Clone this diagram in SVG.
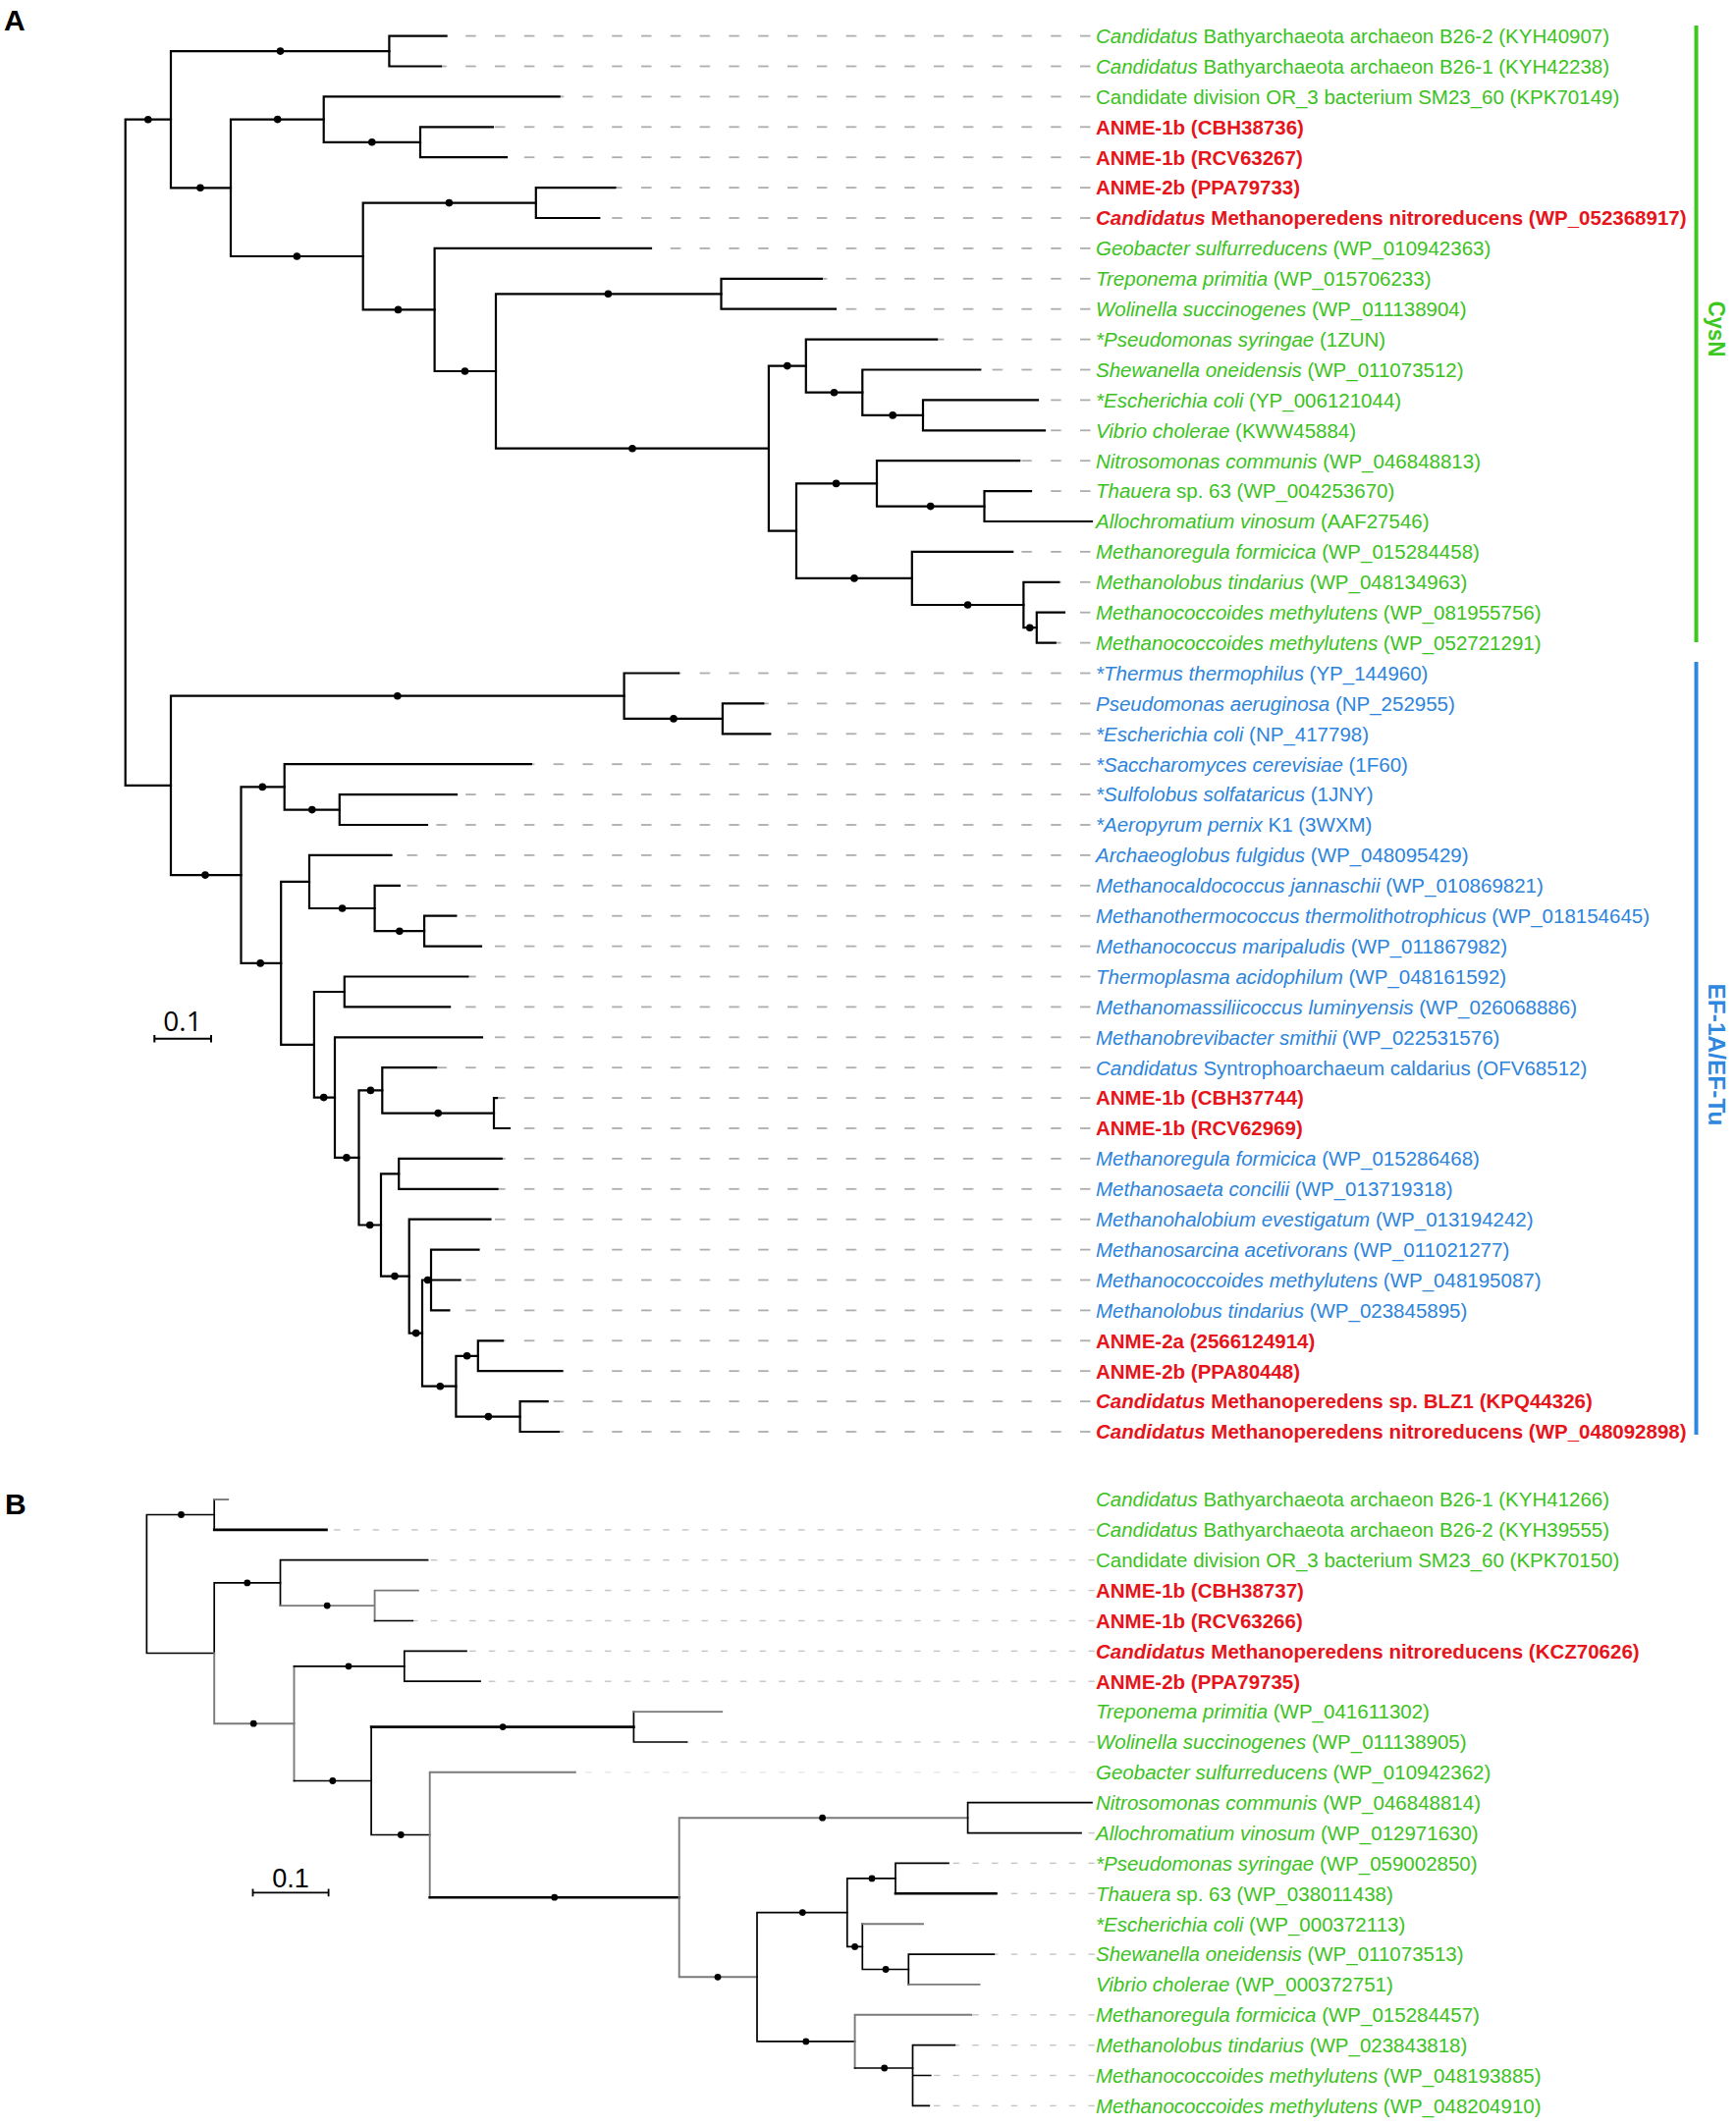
<svg xmlns="http://www.w3.org/2000/svg" width="1768" height="2165" viewBox="0 0 1768 2165">
<style>
.bg{fill:#fff}
.brA{stroke:#000;stroke-width:2.2;fill:none;stroke-linecap:square}
.bk{stroke:#000;stroke-width:1.7;fill:none;stroke-linecap:square}
.gy{stroke:#7a7a7a;stroke-width:1.9;fill:none;stroke-linecap:square}
.thk{stroke:#000;stroke-width:2.6;fill:none;stroke-linecap:square}
.dot{fill:#000}
.lab{font-family:"Liberation Sans",Arial,Helvetica,sans-serif;font-size:20.5px}
.g{fill:#3cc21e}
.bl{fill:#2d84dc}
.r{fill:#e6141b;font-weight:bold}
.i{font-style:italic}
.panel{font-family:"Liberation Sans",Arial,sans-serif;font-size:30px;font-weight:bold;fill:#000}
.cat{font-family:"Liberation Sans",Arial,sans-serif;font-size:23px;font-weight:bold}
</style>
<defs>
<pattern id="dA" patternUnits="userSpaceOnUse" x="474.2" y="0" width="29.8" height="40"><rect x="0" y="0" width="10.5" height="40" fill="#adadad"/></pattern>
<pattern id="dB" patternUnits="userSpaceOnUse" x="1108.5" y="0" width="19.7" height="40"><rect x="0" y="0" width="6.5" height="40" fill="#c4c4c4"/></pattern>
</defs>
<rect class="bg" x="0" y="0" width="1768" height="2165"/>
<text class="panel" x="4" y="31">A</text>
<text class="panel" x="5" y="1542">B</text>

<g id="connectors">
<g id="leadersA" fill="url(#dA)">
<rect x="454.6" y="35.7" width="658.4" height="1.8"/>
<rect x="449" y="66.6" width="664" height="1.8"/>
<rect x="569.6" y="97.5" width="543.4" height="1.8"/>
<rect x="502" y="128.4" width="611" height="1.8"/>
<rect x="516" y="159.3" width="597" height="1.8"/>
<rect x="626.4" y="190.2" width="486.6" height="1.8"/>
<rect x="610.3" y="221.1" width="502.7" height="1.8"/>
<rect x="663" y="252" width="450" height="1.8"/>
<rect x="836.9" y="282.9" width="276.1" height="1.8"/>
<rect x="851" y="313.8" width="262" height="1.8"/>
<rect x="954" y="344.7" width="159" height="1.8"/>
<rect x="998.3" y="375.6" width="114.7" height="1.8"/>
<rect x="1057" y="406.5" width="56" height="1.8"/>
<rect x="1064" y="437.4" width="49" height="1.8"/>
<rect x="1038.2" y="468.3" width="74.8" height="1.8"/>
<rect x="1050" y="499.2" width="63" height="1.8"/>
<rect x="1031.2" y="561" width="81.8" height="1.8"/>
<rect x="1078.2" y="591.9" width="34.8" height="1.8"/>
<rect x="1084" y="622.8" width="29" height="1.8"/>
<rect x="1074.7" y="653.7" width="38.3" height="1.8"/>
<rect x="691" y="684.6" width="422" height="1.8"/>
<rect x="777.3" y="715.5" width="335.7" height="1.8"/>
<rect x="784.3" y="746.4" width="328.7" height="1.8"/>
<rect x="540.9" y="777.3" width="572.1" height="1.8"/>
<rect x="465" y="808.2" width="648" height="1.8"/>
<rect x="435" y="839.1" width="678" height="1.8"/>
<rect x="398.5" y="870" width="714.5" height="1.8"/>
<rect x="406.9" y="900.9" width="706.1" height="1.8"/>
<rect x="464.4" y="931.8" width="648.6" height="1.8"/>
<rect x="490" y="962.7" width="623" height="1.8"/>
<rect x="476.3" y="993.6" width="636.7" height="1.8"/>
<rect x="458.1" y="1024.5" width="654.9" height="1.8"/>
<rect x="491" y="1055.4" width="622" height="1.8"/>
<rect x="444" y="1086.3" width="669" height="1.8"/>
<rect x="506" y="1117.2" width="607" height="1.8"/>
<rect x="519" y="1148.1" width="594" height="1.8"/>
<rect x="510.7" y="1179" width="602.3" height="1.8"/>
<rect x="506.5" y="1209.9" width="606.5" height="1.8"/>
<rect x="499.5" y="1240.8" width="613.5" height="1.8"/>
<rect x="487.5" y="1271.7" width="625.5" height="1.8"/>
<rect x="468.6" y="1302.6" width="644.4" height="1.8"/>
<rect x="457.4" y="1333.5" width="655.6" height="1.8"/>
<rect x="512" y="1364.4" width="601" height="1.8"/>
<rect x="572.4" y="1395.3" width="540.6" height="1.8"/>
<rect x="557.7" y="1426.2" width="555.3" height="1.8"/>
<rect x="569" y="1457.1" width="544" height="1.8"/>
</g>
<g id="leadersB" fill="url(#dB)">
<rect x="332.5" y="1557.2" width="782.5" height="1.4"/>
<rect x="435.6" y="1588" width="679.4" height="1.4"/>
<rect x="425.8" y="1618.9" width="689.2" height="1.4"/>
<rect x="420.2" y="1649.8" width="694.8" height="1.4"/>
<rect x="475" y="1680.7" width="640" height="1.4"/>
<rect x="489" y="1711.5" width="626" height="1.4"/>
<rect x="699.4" y="1773.3" width="415.6" height="1.4"/>
<rect x="585.8" y="1804.1" width="529.2" height="1.4" opacity="0.4"/>
<rect x="1101" y="1865.9" width="14" height="1.4"/>
<rect x="966" y="1896.7" width="149" height="1.4"/>
<rect x="1014.4" y="1927.6" width="100.6" height="1.4"/>
<rect x="1012.3" y="1989.4" width="102.7" height="1.4"/>
<rect x="989.1" y="2051.1" width="125.9" height="1.4"/>
<rect x="972.3" y="2082" width="142.7" height="1.4"/>
<rect x="947.8" y="2112.8" width="167.2" height="1.4"/>
<rect x="946.3" y="2143.7" width="168.7" height="1.4"/>
</g>
<g id="branchesA" class="brA">
<path d="M127.7 121.7V799.9M127.7 121.7H174M127.7 799.9H174"/>
<path d="M174 52.1V191.3M174 52.1H396.4M174 191.3H235"/>
<path d="M396.4 36.6V67.5M396.4 36.6H454.6M396.4 67.5H449"/>
<path d="M235 121.6V261M235 121.6H329.7M235 261H369.7"/>
<path d="M329.7 98.4V144.8M329.7 98.4H569.6M329.7 144.8H428"/>
<path d="M428 129.3V160.2M428 129.3H502M428 160.2H516"/>
<path d="M369.7 206.6V315.4M369.7 206.6H545.8M369.7 315.4H442.6"/>
<path d="M545.8 191.1V222M545.8 191.1H626.4M545.8 222H610.3"/>
<path d="M442.6 252.9V378M442.6 252.9H663M442.6 378H505"/>
<path d="M505 299.3V456.7M505 299.3H734.5M505 456.7H782.9"/>
<path d="M734.5 283.8V314.7M734.5 283.8H836.9M734.5 314.7H851"/>
<path d="M782.9 372.6V540.7M782.9 372.6H820.8M782.9 540.7H811"/>
<path d="M820.8 345.6V399.7M820.8 345.6H954M820.8 399.7H878.3"/>
<path d="M878.3 376.5V422.9M878.3 376.5H998.3M878.3 422.9H940"/>
<path d="M940 407.4V438.3M940 407.4H1057M940 438.3H1064"/>
<path d="M811 492.4V588.9M811 492.4H893M811 588.9H928.8"/>
<path d="M893 469.2V515.6M893 469.2H1038.2M893 515.6H1002.5"/>
<path d="M1002.5 500.1V531M1002.5 500.1H1050M1002.5 531H1112"/>
<path d="M928.8 561.9V616M928.8 561.9H1031.2M928.8 616H1042.4"/>
<path d="M1042.4 592.8V639.2M1042.4 592.8H1078.2M1042.4 639.2H1055.8"/>
<path d="M1055.8 623.7V654.6M1055.8 623.7H1084M1055.8 654.6H1074.7"/>
<path d="M174 708.7V891.1M174 708.7H635.6M174 891.1H245.5"/>
<path d="M635.6 685.5V731.9M635.6 685.5H691M635.6 731.9H735.9"/>
<path d="M735.9 716.4V747.3M735.9 716.4H777.3M735.9 747.3H784.3"/>
<path d="M245.5 801.4V980.9M245.5 801.4H289.7M245.5 980.9H286.2"/>
<path d="M289.7 778.2V824.6M289.7 778.2H540.9M289.7 824.6H345.8"/>
<path d="M345.8 809.1V840M345.8 809.1H465M345.8 840H435"/>
<path d="M286.2 897.9V1063.8M286.2 897.9H315M286.2 1063.8H319.9"/>
<path d="M315 870.9V925M315 870.9H398.5M315 925H381.6"/>
<path d="M381.6 901.8V948.2M381.6 901.8H406.9M381.6 948.2H432.1"/>
<path d="M432.1 932.7V963.6M432.1 932.7H464.4M432.1 963.6H490"/>
<path d="M319.9 1010V1117.6M319.9 1010H350.8M319.9 1117.6H341"/>
<path d="M350.8 994.5V1025.4M350.8 994.5H476.3M350.8 1025.4H458.1"/>
<path d="M341 1056.3V1178.9M341 1056.3H491M341 1178.9H365.5"/>
<path d="M365.5 1110.4V1247.5M365.5 1110.4H389.3M365.5 1247.5H388"/>
<path d="M389.3 1087.2V1133.6M389.3 1087.2H444M389.3 1133.6H503"/>
<path d="M503 1118.1V1149M503 1118.1H506M503 1149H519"/>
<path d="M388 1195.4V1299.6M388 1195.4H406.2M388 1299.6H416.7"/>
<path d="M406.2 1179.9V1210.8M406.2 1179.9H510.7M406.2 1210.8H506.5"/>
<path d="M416.7 1241.7V1357.6M416.7 1241.7H499.5M416.7 1357.6H430"/>
<path d="M430 1303.5V1411.7M430 1303.5H439M430 1411.7H464.4"/>
<path d="M439 1272.6V1334.4M439 1272.6H487.5M439 1303.5H468.6M439 1334.4H457.4"/>
<path d="M464.4 1380.8V1442.6M464.4 1380.8H486.8M464.4 1442.6H529.6"/>
<path d="M486.8 1365.3V1396.2M486.8 1365.3H512M486.8 1396.2H572.4"/>
<path d="M529.6 1427.1V1458M529.6 1427.1H557.7M529.6 1458H569"/>
</g>
<g id="branchesB">
<path class="bk" d="M149.4 1542.5V1683.5M149.4 1542.5H218.2M149.4 1683.5H218.2"/>
<path class="bk" d="M218.2 1527V1557.9"/>
<path class="gy" d="M218.2 1527H232.2"/>
<path class="thk" d="M218.2 1557.9H332.5"/>
<path class="bk" d="M218.2 1611.9V1683.5M218.2 1611.9H285.5"/>
<path class="gy" d="M218.2 1683.5V1755.2M218.2 1755.2H299.5"/>
<path class="bk" d="M285.5 1588.7V1635.1M285.5 1588.7H435.6"/>
<path class="gy" d="M285.5 1635.1H381.6M381.6 1619.6V1650.5M381.6 1619.6H425.8"/>
<path class="bk" d="M381.6 1650.5H420.2"/>
<path class="gy" d="M299.5 1696.8V1813.5"/>
<path class="bk" d="M299.5 1696.8H411.8M299.5 1813.5H378.1"/>
<path class="bk" d="M411.8 1681.4V1712.2M411.8 1681.4H475M411.8 1712.2H489"/>
<path class="bk" d="M378.1 1758.6V1868.5M378.1 1868.5H437.7"/>
<path class="thk" d="M378.1 1758.6H645.4"/>
<path class="bk" d="M645.4 1743.1V1774M645.4 1774H699.4"/>
<path class="gy" d="M645.4 1743.1H735.2"/>
<path class="gy" d="M437.7 1804.8V1932.2M437.7 1804.8H585.8"/>
<path class="thk" d="M437.7 1932.2H691.7"/>
<path class="gy" d="M691.7 1851.2V2013.3M691.7 1851.2H985.6M691.7 2013.3H771"/>
<path class="bk" d="M985.6 1835.7V1866.6M985.6 1835.7H1112M985.6 1866.6H1101"/>
<path class="bk" d="M771 1947.6V2078.9M771 1947.6H862.8M771 2078.9H870.6"/>
<path class="bk" d="M862.8 1912.9V1982.4M862.8 1912.9H912M862.8 1982.4H878.3"/>
<path class="bk" d="M912 1897.4V1928.3M912 1897.4H966"/>
<path class="thk" d="M912 1928.3H1014.4"/>
<path class="bk" d="M878.3 1959.2V2005.5M878.3 2005.5H925.3"/>
<path class="gy" d="M878.3 1959.2H940"/>
<path class="bk" d="M925.3 1990.1V2020.9M925.3 1990.1H1012.3"/>
<path class="gy" d="M925.3 2020.9H997.5"/>
<path class="gy" d="M870.6 2051.8V2106M870.6 2051.8H989.1"/>
<path class="bk" d="M870.6 2106H929.5"/>
<path class="bk" d="M929.5 2082.7V2144.4M929.5 2082.7H972.3M929.5 2113.5H947.8M929.5 2144.4H946.3"/>
</g>
</g>

<g id="internal-nodes-A" class="dot">
<circle cx="150.8" cy="121.7" r="3.8"/><circle cx="285.5" cy="52.1" r="3.8"/><circle cx="204" cy="191.3" r="3.8"/>
<circle cx="282.7" cy="121.6" r="3.8"/><circle cx="378.8" cy="144.8" r="3.8"/><circle cx="302.4" cy="261" r="3.8"/>
<circle cx="457.4" cy="206.6" r="3.8"/><circle cx="405.5" cy="315.4" r="3.8"/><circle cx="473.5" cy="378" r="3.8"/>
<circle cx="619.4" cy="299.3" r="3.8"/><circle cx="644" cy="456.7" r="3.8"/><circle cx="801.8" cy="372.6" r="3.8"/>
<circle cx="849.5" cy="399.7" r="3.8"/><circle cx="909.2" cy="422.9" r="3.8"/><circle cx="851.6" cy="492.4" r="3.8"/>
<circle cx="947.7" cy="515.6" r="3.8"/><circle cx="870" cy="588.9" r="3.8"/><circle cx="985.6" cy="616" r="3.8"/>
<circle cx="1048.8" cy="639.2" r="3.8"/>
<circle cx="404.8" cy="708.7" r="3.8"/><circle cx="686" cy="731.9" r="3.8"/><circle cx="209" cy="891.1" r="3.8"/>
<circle cx="267.3" cy="801.4" r="3.8"/><circle cx="317.8" cy="824.6" r="3.8"/><circle cx="265.2" cy="980.9" r="3.8"/>
<circle cx="348.6" cy="925" r="3.8"/><circle cx="406.9" cy="948.2" r="3.8"/><circle cx="329.7" cy="1117.6" r="3.8"/>
<circle cx="352.9" cy="1178.9" r="3.8"/><circle cx="377.4" cy="1110.4" r="3.8"/><circle cx="446.2" cy="1133.6" r="3.8"/>
<circle cx="376.7" cy="1247.5" r="3.8"/><circle cx="402" cy="1299.6" r="3.8"/><circle cx="423.7" cy="1357.6" r="3.8"/>
<circle cx="435.6" cy="1303.5" r="3.8"/><circle cx="448.3" cy="1411.7" r="3.8"/><circle cx="475.6" cy="1380.8" r="3.8"/>
<circle cx="497.4" cy="1442.6" r="3.8"/>
</g>
<g id="internal-nodes-B" class="dot">
<circle cx="184.5" cy="1542.5" r="3.4"/><circle cx="251.8" cy="1611.9" r="3.4"/><circle cx="333.2" cy="1635.1" r="3.4"/>
<circle cx="258.2" cy="1755.2" r="3.4"/><circle cx="355" cy="1696.8" r="3.4"/><circle cx="338.8" cy="1813.5" r="3.4"/>
<circle cx="512.1" cy="1758.6" r="3.4"/><circle cx="408.3" cy="1868.5" r="3.4"/><circle cx="564.7" cy="1932.2" r="3.4"/>
<circle cx="837.6" cy="1851.2" r="3.4"/><circle cx="731" cy="2013.3" r="3.4"/><circle cx="817.3" cy="1947.6" r="3.4"/>
<circle cx="888" cy="1912.9" r="3.4"/><circle cx="870.6" cy="1982.4" r="3.4"/><circle cx="902.1" cy="2005.5" r="3.4"/>
<circle cx="820.8" cy="2078.9" r="3.4"/><circle cx="900.7" cy="2106" r="3.4"/>
</g>

<g id="scale-A">
<path d="M157.3 1057.7H215M157.3 1054V1061.4M215 1054V1061.4" stroke="#000" stroke-width="2" fill="none"/>
<text x="186" y="1049.5" text-anchor="middle" font-family="'Open Sans','Liberation Sans',sans-serif" font-size="28" fill="#000">0.1</text>
</g>
<g id="scale-B">
<path d="M257.5 1927.4H334.6M257.5 1923.6V1931.2M334.6 1923.6V1931.2" stroke="#000" stroke-width="1.8" fill="none"/>
<text x="296" y="1921.5" text-anchor="middle" font-family="'Liberation Sans',Arial,sans-serif" font-size="27" fill="#000">0.1</text>
</g>

<g id="leavesA" class="lab">
<g id="A01"><text class="g" x="1116" y="43.9"><tspan class="i">Candidatus</tspan> Bathyarchaeota archaeon B26-2 (KYH40907)</text></g>
<g id="A02"><text class="g" x="1116" y="74.8"><tspan class="i">Candidatus</tspan> Bathyarchaeota archaeon B26-1 (KYH42238)</text></g>
<g id="A03"><text class="g" x="1116" y="105.7">Candidate division OR_3 bacterium SM23_60 (KPK70149)</text></g>
<g id="A04"><text class="r" x="1116" y="136.6">ANME-1b (CBH38736)</text></g>
<g id="A05"><text class="r" x="1116" y="167.5">ANME-1b (RCV63267)</text></g>
<g id="A06"><text class="r" x="1116" y="198.4">ANME-2b (PPA79733)</text></g>
<g id="A07"><text class="r" x="1116" y="229.3"><tspan class="i">Candidatus</tspan> Methanoperedens nitroreducens (WP_052368917)</text></g>
<g id="A08"><text class="g" x="1116" y="260.2"><tspan class="i">Geobacter sulfurreducens</tspan> (WP_010942363)</text></g>
<g id="A09"><text class="g" x="1116" y="291.1"><tspan class="i">Treponema primitia</tspan> (WP_015706233)</text></g>
<g id="A10"><text class="g" x="1116" y="322"><tspan class="i">Wolinella succinogenes</tspan> (WP_011138904)</text></g>
<g id="A11"><text class="g" x="1116" y="352.9"><tspan class="i">*Pseudomonas syringae</tspan> (1ZUN)</text></g>
<g id="A12"><text class="g" x="1116" y="383.8"><tspan class="i">Shewanella oneidensis</tspan> (WP_011073512)</text></g>
<g id="A13"><text class="g" x="1116" y="414.7"><tspan class="i">*Escherichia coli</tspan> (YP_006121044)</text></g>
<g id="A14"><text class="g" x="1116" y="445.6"><tspan class="i">Vibrio cholerae</tspan> (KWW45884)</text></g>
<g id="A15"><text class="g" x="1116" y="476.5"><tspan class="i">Nitrosomonas communis</tspan> (WP_046848813)</text></g>
<g id="A16"><text class="g" x="1116" y="507.4"><tspan class="i">Thauera</tspan> sp. 63 (WP_004253670)</text></g>
<g id="A17"><text class="g" x="1116" y="538.3"><tspan class="i">Allochromatium vinosum</tspan> (AAF27546)</text></g>
<g id="A18"><text class="g" x="1116" y="569.2"><tspan class="i">Methanoregula formicica</tspan> (WP_015284458)</text></g>
<g id="A19"><text class="g" x="1116" y="600.1"><tspan class="i">Methanolobus tindarius</tspan> (WP_048134963)</text></g>
<g id="A20"><text class="g" x="1116" y="631"><tspan class="i">Methanococcoides methylutens</tspan> (WP_081955756)</text></g>
<g id="A21"><text class="g" x="1116" y="661.9"><tspan class="i">Methanococcoides methylutens</tspan> (WP_052721291)</text></g>
<g id="A22"><text class="bl" x="1116" y="692.8"><tspan class="i">*Thermus thermophilus</tspan> (YP_144960)</text></g>
<g id="A23"><text class="bl" x="1116" y="723.7"><tspan class="i">Pseudomonas aeruginosa</tspan> (NP_252955)</text></g>
<g id="A24"><text class="bl" x="1116" y="754.6"><tspan class="i">*Escherichia coli</tspan> (NP_417798)</text></g>
<g id="A25"><text class="bl" x="1116" y="785.5"><tspan class="i">*Saccharomyces cerevisiae</tspan> (1F60)</text></g>
<g id="A26"><text class="bl" x="1116" y="816.4"><tspan class="i">*Sulfolobus solfataricus</tspan> (1JNY)</text></g>
<g id="A27"><text class="bl" x="1116" y="847.3"><tspan class="i">*Aeropyrum pernix</tspan> K1 (3WXM)</text></g>
<g id="A28"><text class="bl" x="1116" y="878.2"><tspan class="i">Archaeoglobus fulgidus</tspan> (WP_048095429)</text></g>
<g id="A29"><text class="bl" x="1116" y="909.1"><tspan class="i">Methanocaldococcus jannaschii</tspan> (WP_010869821)</text></g>
<g id="A30"><text class="bl" x="1116" y="940"><tspan class="i">Methanothermococcus thermolithotrophicus</tspan> (WP_018154645)</text></g>
<g id="A31"><text class="bl" x="1116" y="970.9"><tspan class="i">Methanococcus maripaludis</tspan> (WP_011867982)</text></g>
<g id="A32"><text class="bl" x="1116" y="1001.8"><tspan class="i">Thermoplasma acidophilum</tspan> (WP_048161592)</text></g>
<g id="A33"><text class="bl" x="1116" y="1032.7"><tspan class="i">Methanomassiliicoccus luminyensis</tspan> (WP_026068886)</text></g>
<g id="A34"><text class="bl" x="1116" y="1063.6"><tspan class="i">Methanobrevibacter smithii</tspan> (WP_022531576)</text></g>
<g id="A35"><text class="bl" x="1116" y="1094.5"><tspan class="i">Candidatus</tspan> Syntrophoarchaeum caldarius (OFV68512)</text></g>
<g id="A36"><text class="r" x="1116" y="1125.4">ANME-1b (CBH37744)</text></g>
<g id="A37"><text class="r" x="1116" y="1156.3">ANME-1b (RCV62969)</text></g>
<g id="A38"><text class="bl" x="1116" y="1187.2"><tspan class="i">Methanoregula formicica</tspan> (WP_015286468)</text></g>
<g id="A39"><text class="bl" x="1116" y="1218.1"><tspan class="i">Methanosaeta concilii</tspan> (WP_013719318)</text></g>
<g id="A40"><text class="bl" x="1116" y="1249"><tspan class="i">Methanohalobium evestigatum</tspan> (WP_013194242)</text></g>
<g id="A41"><text class="bl" x="1116" y="1279.9"><tspan class="i">Methanosarcina acetivorans</tspan> (WP_011021277)</text></g>
<g id="A42"><text class="bl" x="1116" y="1310.8"><tspan class="i">Methanococcoides methylutens</tspan> (WP_048195087)</text></g>
<g id="A43"><text class="bl" x="1116" y="1341.7"><tspan class="i">Methanolobus tindarius</tspan> (WP_023845895)</text></g>
<g id="A44"><text class="r" x="1116" y="1372.6">ANME-2a (2566124914)</text></g>
<g id="A45"><text class="r" x="1116" y="1403.5">ANME-2b (PPA80448)</text></g>
<g id="A46"><text class="r" x="1116" y="1434.4"><tspan class="i">Candidatus</tspan> Methanoperedens sp. BLZ1 (KPQ44326)</text></g>
<g id="A47"><text class="r" x="1116" y="1465.3"><tspan class="i">Candidatus</tspan> Methanoperedens nitroreducens (WP_048092898)</text></g>
</g>

<g id="leavesB" class="lab">
<g id="B01"><text class="g" x="1116" y="1534.3"><tspan class="i">Candidatus</tspan> Bathyarchaeota archaeon B26-1 (KYH41266)</text></g>
<g id="B02"><text class="g" x="1116" y="1565.2"><tspan class="i">Candidatus</tspan> Bathyarchaeota archaeon B26-2 (KYH39555)</text></g>
<g id="B03"><text class="g" x="1116" y="1596">Candidate division OR_3 bacterium SM23_60 (KPK70150)</text></g>
<g id="B04"><text class="r" x="1116" y="1626.9">ANME-1b (CBH38737)</text></g>
<g id="B05"><text class="r" x="1116" y="1657.8">ANME-1b (RCV63266)</text></g>
<g id="B06"><text class="r" x="1116" y="1688.7"><tspan class="i">Candidatus</tspan> Methanoperedens nitroreducens (KCZ70626)</text></g>
<g id="B07"><text class="r" x="1116" y="1719.5">ANME-2b (PPA79735)</text></g>
<g id="B08"><text class="g" x="1116" y="1750.4"><tspan class="i">Treponema primitia</tspan> (WP_041611302)</text></g>
<g id="B09"><text class="g" x="1116" y="1781.3"><tspan class="i">Wolinella succinogenes</tspan> (WP_011138905)</text></g>
<g id="B10"><text class="g" x="1116" y="1812.1"><tspan class="i">Geobacter sulfurreducens</tspan> (WP_010942362)</text></g>
<g id="B11"><text class="g" x="1116" y="1843"><tspan class="i">Nitrosomonas communis</tspan> (WP_046848814)</text></g>
<g id="B12"><text class="g" x="1116" y="1873.9"><tspan class="i">Allochromatium vinosum</tspan> (WP_012971630)</text></g>
<g id="B13"><text class="g" x="1116" y="1904.7"><tspan class="i">*Pseudomonas syringae</tspan> (WP_059002850)</text></g>
<g id="B14"><text class="g" x="1116" y="1935.6"><tspan class="i">Thauera</tspan> sp. 63 (WP_038011438)</text></g>
<g id="B15"><text class="g" x="1116" y="1966.5"><tspan class="i">*Escherichia coli</tspan> (WP_000372113)</text></g>
<g id="B16"><text class="g" x="1116" y="1997.4"><tspan class="i">Shewanella oneidensis</tspan> (WP_011073513)</text></g>
<g id="B17"><text class="g" x="1116" y="2028.2"><tspan class="i">Vibrio cholerae</tspan> (WP_000372751)</text></g>
<g id="B18"><text class="g" x="1116" y="2059.1"><tspan class="i">Methanoregula formicica</tspan> (WP_015284457)</text></g>
<g id="B19"><text class="g" x="1116" y="2090"><tspan class="i">Methanolobus tindarius</tspan> (WP_023843818)</text></g>
<g id="B20"><text class="g" x="1116" y="2120.8"><tspan class="i">Methanococcoides methylutens</tspan> (WP_048193885)</text></g>
<g id="B21"><text class="g" x="1116" y="2151.7"><tspan class="i">Methanococcoides methylutens</tspan> (WP_048204910)</text></g>
</g>

<g id="group-CysN">
<rect x="1725.5" y="26" width="4" height="628" fill="#3cc81e"/>
<text class="cat" fill="#3cc81e" transform="translate(1740 335) rotate(90)" text-anchor="middle" textLength="57" lengthAdjust="spacingAndGlyphs">CysN</text>
</g>
<g id="group-EF">
<rect x="1725.5" y="674" width="4" height="787" fill="#2f88e0"/>
<text class="cat" fill="#2f88e0" transform="translate(1740 1074) rotate(90)" text-anchor="middle" textLength="145" lengthAdjust="spacingAndGlyphs">EF-1A/EF-Tu</text>
</g>
</svg>
